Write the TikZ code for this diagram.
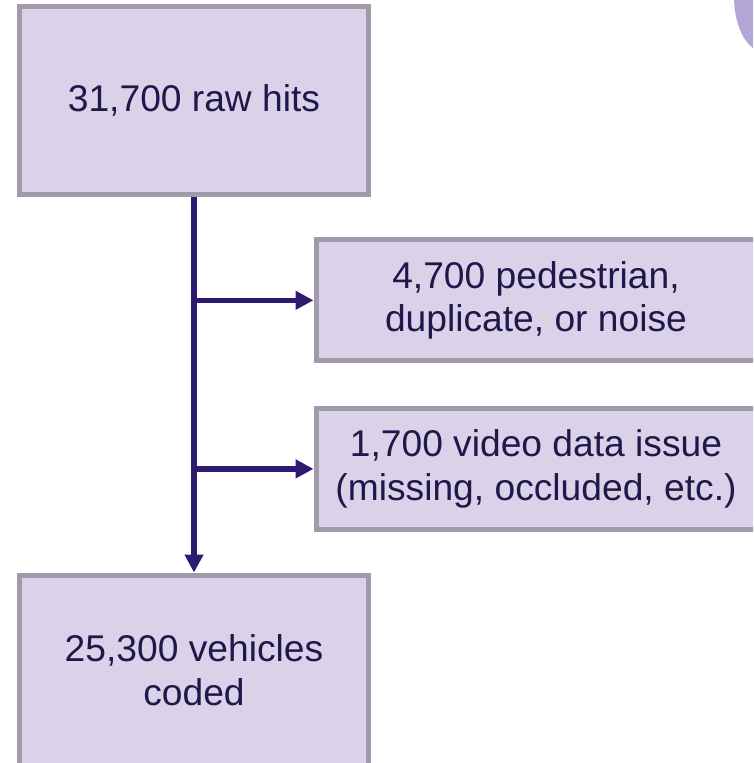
\documentclass[tikz,border=0pt]{standalone}
\usepackage{fontspec}
\setmainfont{Liberation Sans}
\usetikzlibrary{arrows.meta}
\definecolor{boxfill}{HTML}{D9D2E9}
\definecolor{boxline}{HTML}{A09AAA}
\definecolor{txt}{HTML}{20174A}
\definecolor{arrc}{HTML}{2E1A6E}
\definecolor{blobc}{HTML}{B3A6D5}
\tikzset{
  flowbox/.style={draw=boxline, fill=boxfill, line width=5pt, rectangle, inner sep=0pt,
    align=center, text=txt, font=\fontsize{37.2}{43.5}\selectfont},
  arr/.style={draw=arrc, line width=5.5pt, -{Triangle[length=18pt,width=18pt]}}
}
\begin{document}
\begin{tikzpicture}[x=1pt,y=-1pt]
\useasboundingbox (0,0) rectangle (753,763);
\clip (0,0) rectangle (753,763);
\fill[blobc] (734,0) .. controls (735,22) and (742,40) .. (753,48) -- (753,0) -- cycle;
\node[flowbox, minimum width=349pt, minimum height=188pt] (raw) at (194,100.2) {31,700 raw hits};
\node[flowbox, minimum width=440pt, minimum height=121pt] (ped) at (536,300.3) {4,700 pedestrian,\\duplicate, or noise};
\node[flowbox, minimum width=440pt, minimum height=121pt] (vid) at (536,468.9) {1,700 video data issue\\(missing, occluded, etc.)};
\node[flowbox, minimum width=349pt, minimum height=190pt] (veh) at (194,670) {25,300 vehicles\\coded};
\coordinate (j1) at (194,300.3);
\coordinate (j2) at (194,468.9);
\draw[arr] (raw.south) -- (veh.north);
\draw[arr] (j1) -- (ped.west);
\draw[arr] (j2) -- (vid.west);
\end{tikzpicture}
\end{document}
